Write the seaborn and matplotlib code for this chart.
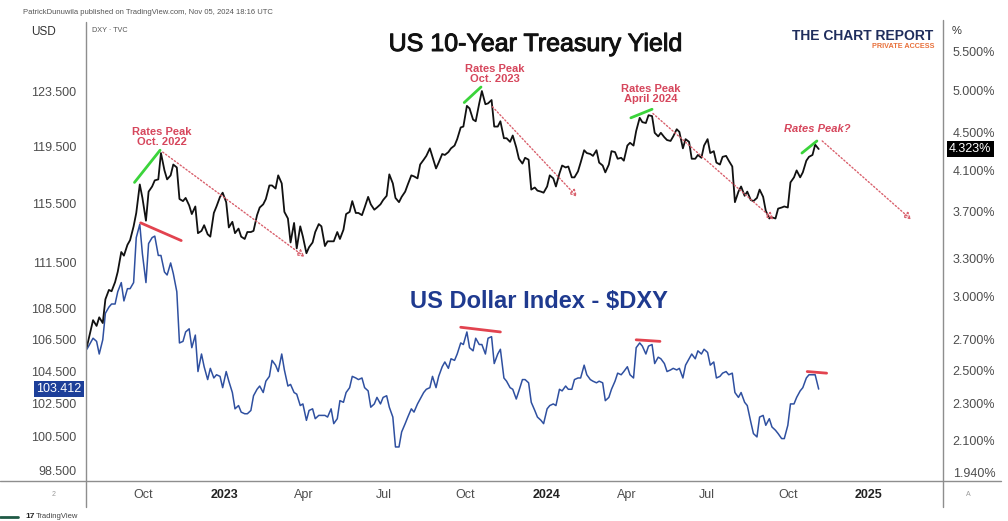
import pandas as pd
import matplotlib
matplotlib.use("Agg")
import matplotlib.pyplot as plt
import matplotlib.dates as mdates
import matplotlib.patheffects as pe
from matplotlib.lines import Line2D
from matplotlib.ticker import FixedLocator, NullLocator, NullFormatter
import seaborn as sns

# ---------------------------------------------------------------------------
# Data: closes sampled on Tuesdays and Fridays, 29 Jul 2022 - 5 Nov 2024
# ---------------------------------------------------------------------------
fridays = pd.date_range("2022-07-29", "2024-11-01", freq="W-FRI")
tuesdays = pd.date_range("2022-08-02", "2024-11-05", freq="W-TUE")
dates = fridays.union(tuesdays)

us10y_close = [
    2.65,
    2.75, 2.83, 2.79, 2.85, 2.81, 2.98, 3.05, 3.04, 3.11,            # Aug 22
    3.19, 3.35, 3.32, 3.41, 3.45, 3.57, 3.69, 3.96, 3.83,            # Sep 22
    3.62, 3.89, 3.94, 4.00, 4.01, 4.28, 4.10, 4.01,                  # Oct 22
    4.05, 4.16, 4.13, 3.82, 3.80, 3.83, 3.76, 3.68, 3.75,            # Nov 22
    3.51, 3.53, 3.58, 3.50, 3.48, 3.69, 3.75, 3.84, 3.88,            # Dec 22
    3.79, 3.56, 3.61, 3.51, 3.55, 3.48, 3.46, 3.52, 3.52,            # Jan 23
    3.53, 3.67, 3.74, 3.77, 3.82, 3.95, 3.95, 3.92,                  # Feb 23
    4.05, 3.97, 3.70, 3.64, 3.43, 3.60, 3.38, 3.57, 3.48,            # Mar 23
    3.34, 3.39, 3.43, 3.52, 3.59, 3.57, 3.40, 3.44,                  # Apr 23
    3.44, 3.44, 3.52, 3.46, 3.54, 3.68, 3.70, 3.80, 3.69,            # May 23
    3.69, 3.67, 3.74, 3.84, 3.77, 3.72, 3.74, 3.77, 3.81,            # Jun 23
    3.85, 4.06, 3.97, 3.83, 3.79, 3.84, 3.89, 3.96,                  # Jul 23
    4.05, 4.04, 4.02, 4.16, 4.21, 4.25, 4.33, 4.24, 4.12,            # Aug 23
    4.18, 4.27, 4.26, 4.29, 4.33, 4.36, 4.43, 4.56, 4.57,            # Sep 23
    4.81, 4.78, 4.65, 4.63, 4.84, 4.99, 4.83, 4.84, 4.88,            # Oct 23
    4.57, 4.57, 4.63, 4.44, 4.44, 4.40, 4.47, 4.34,                  # Nov 23
    4.22, 4.17, 4.23, 4.21, 3.91, 3.93, 3.90, 3.89, 3.88,            # Dec 23
    3.94, 4.05, 4.02, 3.94, 4.07, 4.15, 4.13, 4.14, 4.03,            # Jan 24
    4.03, 4.09, 4.18, 4.31, 4.28, 4.27, 4.25, 4.31,                  # Feb 24
    4.18, 4.15, 4.08, 4.16, 4.30, 4.29, 4.22, 4.23, 4.20,            # Mar 24
    4.36, 4.39, 4.36, 4.52, 4.67, 4.62, 4.61, 4.70, 4.69,            # Apr 24
    4.50, 4.46, 4.50, 4.45, 4.42, 4.41, 4.46, 4.54, 4.51,            # May 24
    4.33, 4.43, 4.40, 4.22, 4.22, 4.26, 4.23, 4.36,                  # Jun 24
    4.43, 4.28, 4.30, 4.18, 4.16, 4.24, 4.25, 4.20, 4.14,            # Jul 24
    3.79, 3.89, 3.94, 3.85, 3.89, 3.81, 3.80, 3.83, 3.91,            # Aug 24
    3.84, 3.71, 3.64, 3.65, 3.64, 3.73, 3.74, 3.75,                  # Sep 24
    3.74, 3.98, 4.03, 4.10, 4.03, 4.08, 4.20, 4.24, 4.26,            # Oct 24
    4.37, 4.323,                                                     # Nov 24
]

dxy_close = [
    105.9,
    106.3, 106.6, 106.4, 105.6, 106.5, 108.2, 108.6, 108.8, 108.8,   # Aug 22
    109.6, 110.2, 109.0, 109.8, 109.8, 110.2, 113.2, 114.1, 112.1,   # Sep 22
    110.2, 112.8, 113.2, 113.3, 112.0, 112.0, 110.9, 110.7,          # Oct 22
    111.5, 110.8, 109.6, 106.3, 106.4, 107.0, 107.2, 106.0, 106.8,   # Nov 22
    104.5, 105.6, 104.8, 104.0, 104.7, 104.1, 104.3, 104.2, 103.5,   # Dec 22
    104.5, 103.9, 103.2, 102.2, 102.4, 102.0, 101.9, 101.9, 102.1,   # Jan 23
    103.0, 103.4, 103.6, 103.2, 103.9, 104.2, 105.2, 104.9,          # Feb 23
    104.5, 105.6, 104.6, 103.6, 103.7, 103.2, 103.1, 102.4, 102.5,   # Mar 23
    101.5, 102.1, 102.2, 101.6, 101.8, 101.8, 101.8, 101.7,          # Apr 23
    102.2, 101.3, 101.6, 102.7, 102.6, 103.2, 103.5, 104.2, 104.1,   # May 23
    104.0, 104.1, 103.5, 103.3, 102.3, 102.5, 102.9, 102.5, 102.9,   # Jun 23
    103.0, 102.3, 101.7, 99.9, 99.9, 100.8, 101.3, 101.7,            # Jul 23
    102.2, 102.0, 102.5, 102.8, 103.2, 103.4, 103.5, 104.2, 103.5,   # Aug 23
    104.2, 104.8, 105.1, 104.7, 105.3, 105.2, 105.6, 106.3, 106.2,   # Sep 23
    107.0, 106.0, 105.8, 106.6, 106.2, 106.2, 105.6, 106.6, 106.7,   # Oct 23
    105.0, 105.6, 105.9, 104.1, 103.9, 103.5, 103.4, 102.8,          # Nov 23
    103.3, 104.0, 104.0, 103.8, 102.6, 102.1, 101.7, 101.5, 101.3,   # Dec 23
    102.2, 102.4, 102.5, 102.4, 103.4, 103.3, 103.6, 103.4, 103.4,   # Jan 24
    104.0, 104.1, 104.1, 104.9, 104.3, 104.0, 103.9, 103.8,          # Feb 24
    103.9, 103.8, 102.7, 102.9, 103.4, 103.9, 104.4, 104.3, 104.5,   # Mar 24
    104.8, 104.3, 104.1, 106.0, 106.3, 106.1, 105.6, 106.1, 106.2,   # Apr 24
    105.0, 105.4, 105.3, 105.0, 104.5, 104.6, 104.7, 104.6, 104.7,   # May 24
    104.1, 104.9, 105.3, 105.6, 105.3, 105.8, 105.6, 105.9,          # Jun 24
    105.7, 104.9, 105.1, 104.1, 104.2, 104.4, 104.5, 104.3, 104.4,   # Jul 24
    103.2, 102.9, 103.2, 102.6, 102.4, 101.4, 100.7, 100.5, 101.7,   # Aug 24
    101.8, 101.2, 101.6, 101.1, 100.9, 100.7, 100.4, 100.4,          # Sep 24
    101.2, 102.5, 102.5, 102.9, 103.3, 103.5, 104.1, 104.3, 104.3,   # Oct 24
    104.3, 103.412,                                                  # Nov 24
]

dxy_ticks = [98.5, 100.5, 102.5, 104.5, 106.5, 108.5, 111.5, 115.5, 119.5, 123.5]
yield_ticks = [1.94, 2.1, 2.3, 2.5, 2.7, 3.0, 3.3, 3.7, 4.1, 4.5, 5.0, 5.5]
date_ticks = ["2022-10-01", "2023-01-01", "2023-04-01", "2023-07-01", "2023-10-01",
              "2024-01-01", "2024-04-01", "2024-07-01", "2024-10-01", "2025-01-01"]
date_labels = ["Oct", "2023", "Apr", "Jul", "Oct", "2024", "Apr", "Jul", "Oct", "2025"]

# momentum into each yield peak (green), later decline (dotted red), dollar tops (red)
green_segments = [
    ("2022-09-21", 3.98, "2022-10-20", 4.31),
    ("2023-09-30", 4.85, "2023-10-19", 5.04),
    ("2024-04-06", 4.67, "2024-04-30", 4.77),
    ("2024-10-17", 4.28, "2024-11-03", 4.41),
]
dotted_segments = [
    ("2022-10-23", 4.29, "2023-04-02", 3.31),
    ("2023-11-01", 4.80, "2024-02-05", 3.84),
    ("2024-05-01", 4.72, "2024-09-15", 3.63),
    ("2024-11-09", 4.41, "2025-02-18", 3.63),
]
dxy_segments = [
    ("2022-09-28", 114.2, "2022-11-13", 113.0),
    ("2023-09-26", 107.3, "2023-11-10", 107.0),
    ("2024-04-12", 106.5, "2024-05-09", 106.4),
    ("2024-10-23", 104.5, "2024-11-14", 104.4),
]
peak_notes = [
    ("Rates Peak\nOct. 2022", "2022-10-22", 4.45, "normal"),
    ("Rates Peak\nOct. 2023", "2023-11-04", 5.20, "normal"),
    ("Rates Peak\nApril 2024", "2024-04-28", 4.95, "normal"),
    ("Rates Peak?", "2024-11-03", 4.54, "italic"),
]

BLUE = "#2f50a0"
TAG_BLUE = "#1d3f99"
GREEN = "#3bd43b"
RED = "#e2434f"
RED_DOT = "#d9606c"
NOTE = "#d6465c"
FRAME = "#8e8e8e"
TICK = "#4d4d4d"

sns.set_theme(style="white")
plt.rcParams["font.family"] = ["Liberation Sans", "DejaVu Sans"]

W, H = 1008, 521


def fx(x):
    return x / W


def fy(y):
    return 1 - y / H


df = pd.DataFrame({"date": dates, "dxy": dxy_close, "us10y": us10y_close})

fig = plt.figure(figsize=(W / 100, H / 100), dpi=100)
fig.patch.set_facecolor("white")
ax = fig.add_axes([fx(86), fy(481), fx(943) - fx(86), fy(22) - fy(481)])
ax2 = ax.twinx()

sns.lineplot(data=df, x="date", y="dxy", ax=ax, color=BLUE, linewidth=1.1)
sns.lineplot(data=df, x="date", y="us10y", ax=ax2, color="#111111", linewidth=1.3)

for a in (ax, ax2):
    a.set_yscale("log")
    for s in a.spines.values():
        s.set_visible(False)
    a.set_xlabel("")
    a.set_ylabel("")
    a.yaxis.set_minor_locator(NullLocator())
    a.yaxis.set_minor_formatter(NullFormatter())

ax.set_xlim(pd.Timestamp("2022-07-28"), pd.Timestamp("2025-03-26"))
ax.set_ylim(97.89, 128.75)
ax2.set_ylim(1.9006, 5.92)

ax.yaxis.set_major_locator(FixedLocator(dxy_ticks))
ax.set_yticklabels([f"{v:.3f}" for v in dxy_ticks])
ax2.yaxis.set_major_locator(FixedLocator(yield_ticks))
ax2.set_yticklabels([f"{v:.3f}%" for v in yield_ticks])
ax.tick_params(axis="y", length=0, pad=7, labelsize=9, labelcolor=TICK)
ax2.tick_params(axis="y", length=0, pad=7, labelsize=9, labelcolor=TICK)

ax.set_xticks(mdates.date2num(pd.to_datetime(date_ticks)))
ax.set_xticklabels(date_labels)
ax.tick_params(axis="x", length=0, pad=6, labelsize=9, labelcolor=TICK)
for lab in ax.get_xticklabels():
    if lab.get_text().isdigit():
        lab.set_fontweight("bold")
        lab.set_color("#222222")
ax.grid(False)
ax2.grid(False)

# trend marks
for d0, v0, d1, v1 in green_segments:
    ax2.plot(pd.to_datetime([d0, d1]), [v0, v1], color=GREEN, lw=2.0,
             solid_capstyle="round", zorder=5)
for d0, v0, d1, v1 in dotted_segments:
    ax2.annotate("", xy=(mdates.date2num(pd.Timestamp(d1)), v1),
                 xytext=(mdates.date2num(pd.Timestamp(d0)), v0),
                 arrowprops=dict(arrowstyle="-|>,head_length=0.35,head_width=0.18",
                                 linestyle=(0, (1, 1.6)), color=RED_DOT, lw=1.0,
                                 shrinkA=0, shrinkB=0, fill=False))
for d0, v0, d1, v1 in dxy_segments:
    ax.plot(pd.to_datetime([d0, d1]), [v0, v1], color=RED, lw=2.0,
            solid_capstyle="round", zorder=5)
for text, d, v, style in peak_notes:
    ax2.text(pd.Timestamp(d), v, text, ha="center", va="center", fontsize=8,
             fontweight="bold", fontstyle=style, color=NOTE, linespacing=1.0)

# last-value tags
ax.text(-0.005, dxy_close[-1], f"{dxy_close[-1]:.3f}", transform=ax.get_yaxis_transform(),
        ha="right", va="center", fontsize=9, color="white",
        bbox=dict(boxstyle="square,pad=0.18", facecolor=TAG_BLUE, edgecolor="none"))
ax2.text(1.007, us10y_close[-1], f"{us10y_close[-1]:.3f}%", transform=ax2.get_yaxis_transform(),
         ha="left", va="center", fontsize=9, color="white",
         bbox=dict(boxstyle="square,pad=0.18", facecolor="#000000", edgecolor="none"))

# titles
fig.text(fx(535.5), fy(44), "US 10-Year Treasury Yield", ha="center", va="center",
         fontsize=18, color="#111111",
         path_effects=[pe.withStroke(linewidth=0.7, foreground="#111111")])
fig.text(fx(539.5), fy(301.5), "US Dollar Index - $DXY", ha="center", va="center",
         fontsize=17, fontweight="bold", color="#1f3a8f")

# branding
fig.text(fx(863), fy(36), "THE CHART REPORT", ha="center", va="center", fontsize=10,
         fontweight="bold", color="#1f2d5c")
fig.text(fx(934), fy(46.5), "PRIVATE ACCESS", ha="right", va="center", fontsize=5.2,
         fontweight="bold", color="#e8703a")

# header and scale captions
fig.text(fx(23), fy(13), "PatrickDunuwila published on TradingView.com, Nov 05, 2024 18:16 UTC",
         ha="left", va="center", fontsize=5.5, color="#555555")
fig.text(fx(43), fy(32), "USD", ha="center", va="center", fontsize=8.5, color="#333333")
fig.text(fx(92), fy(31), "DXY · TVC", ha="left", va="center", fontsize=5.2, color="#555555")
fig.text(fx(952), fy(31), "%", ha="left", va="center", fontsize=8, color="#333333")
fig.text(fx(54), fy(494), "2", ha="center", va="center", fontsize=5, color="#9a9a9a")
fig.text(fx(968), fy(494), "A", ha="center", va="center", fontsize=5, color="#9a9a9a")
fig.text(fx(25), fy(517), "17", ha="left", va="center", fontsize=6, fontweight="bold",
         color="#222222")
fig.text(fx(36), fy(517), "TradingView", ha="left", va="center", fontsize=5.5, color="#444444")

# chart frame
frame = [
    ((86, 86), (22, 507)),
    ((943, 943), (20, 507)),
    ((0, 1001), (481, 481)),
]
for xs, ys in frame:
    fig.add_artist(Line2D([fx(x) for x in xs], [fy(y) for y in ys], color=FRAME, lw=1.0))
fig.add_artist(Line2D([fx(0), fx(18)], [fy(517), fy(517)], color="#1f5a45", lw=2.0))

fig.savefig("out.png", dpi=100, facecolor="white")
